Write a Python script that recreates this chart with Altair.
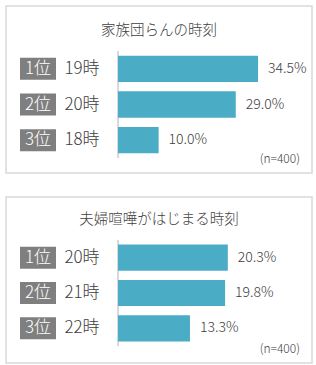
import altair as alt
import pandas as pd

ranks = ["1位", "2位", "3位"]

title1 = "家族団らんの時刻"
times1 = ["19時", "20時", "18時"]
values1 = [34.5, 29.0, 10.0]

title2 = "夫婦喧嘩がはじまる時刻"
times2 = ["20時", "21時", "22時"]
values2 = [20.3, 19.8, 13.3]

note = "(n=400)"

FONT = "Noto Sans CJK JP"
FW = 300
TXT = "#404040"
BOX = "M-1,-0.61L1,-0.61L1,0.61L-1,0.61Z"


def panel(title, times, values, yr, title_y, note_y, height, xmax, xend):
    df = pd.DataFrame({"rank": ranks, "time": times, "value": values})
    base = alt.Chart(df).transform_calculate(
        label="format(datum.value, '.1f') + '%'"
    )
    y = alt.Y("rank:N", sort=ranks, axis=None,
              scale=alt.Scale(range=yr, paddingInner=0.26, paddingOuter=0.13))
    x = alt.X("value:Q", axis=None,
              scale=alt.Scale(domain=[0, xmax], range=[112, xend], zero=True, nice=False))
    bars = base.mark_bar(color="#4bacc6").encode(x=x, y=y)
    labels = base.mark_text(align="left", dx=10, fontSize=14, font=FONT, fontWeight=FW,
                            color=TXT).encode(x=x, y=y, text="label:N")
    boxes = base.mark_point(shape=BOX, size=1296, filled=True, opacity=1,
                            color="#7f7f7f", strokeWidth=0).encode(
        x=alt.value(32), y=y)
    rank_text = base.mark_text(color="white", fontSize=17, font=FONT, fontWeight=FW).encode(
        x=alt.value(32), y=y, text="rank:N")
    time_text = base.mark_text(color=TXT, fontSize=17, font=FONT, fontWeight=FW).encode(
        x=alt.value(76), y=y, text="time:N")
    axis_line = base.mark_rule(color="#d9d9d9", strokeWidth=1.5).encode(
        x=alt.value(112), y=alt.value(yr[0]), y2=alt.value(yr[1]))
    tdf = pd.DataFrame({"t": [title]})
    ttl = alt.Chart(tdf).mark_text(fontSize=14.5, font=FONT, fontWeight=FW, color=TXT).encode(
        x=alt.value(153), y=alt.value(title_y), text="t:N")
    ndf = pd.DataFrame({"t": [note]})
    nt = alt.Chart(ndf).mark_text(fontSize=12, font=FONT, fontWeight=FW, color=TXT,
                                  align="right").encode(
        x=alt.value(294), y=alt.value(note_y), text="t:N")
    return alt.layer(axis_line, bars, labels, boxes, rank_text, time_text, ttl, nt).properties(
        width=306, height=height)


p1 = panel(title1, times1, values1, [45, 152], 25, 153, 167, 40, 112 + 40 * 4.06)
p2 = panel(title2, times2, values2, [43, 149], 23, 152, 166, 25, 112 + 25 * 5.41)

chart = alt.vconcat(p1, p2, spacing=22).configure_view(
    stroke="#d9d9d9", strokeWidth=1.5
).properties(
    padding={"left": 5, "top": 5, "right": 0, "bottom": 0},
    background="white",
)

chart.save("out.html", embed_options={"renderer": "svg", "actions": False})
